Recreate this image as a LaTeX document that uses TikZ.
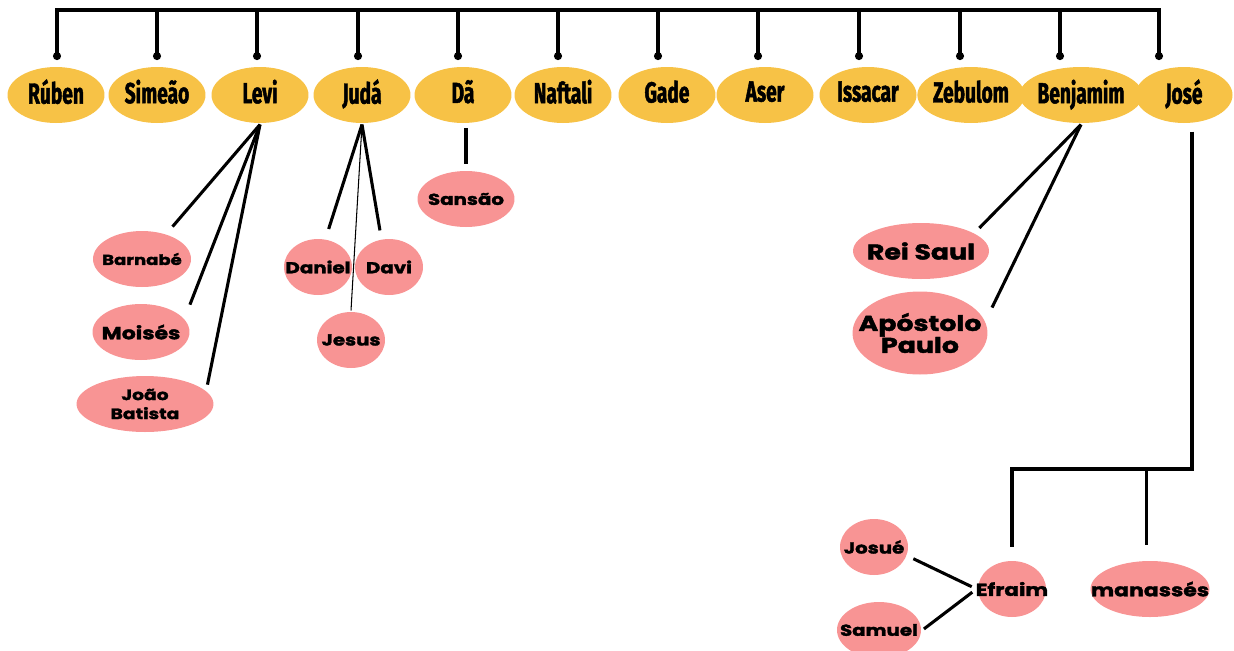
\documentclass[tikz,border=0pt]{standalone}
\usepackage{fontspec}
\usetikzlibrary{shapes.geometric,arrows.meta}
\newfontfamily\tribefont[FakeStretch=0.66,FakeBold=1.6]{Fira Sans}
\newfontfamily\kidfont[FakeStretch=1.25,FakeBold=2]{Poppins}
\definecolor{tribeyellow}{RGB}{247,194,70}
\definecolor{kidpink}{RGB}{248,148,148}
\begin{document}
\begin{tikzpicture}[x=0.02cm,y=-0.02cm,line width=1.75pt]

	\tikzstyle{tribe}=[shape=ellipse,fill=tribeyellow,inner sep=0pt,minimum width=1.94cm,minimum height=1.12cm,text depth=4pt,font=\tribefont\bfseries\fontsize{16.5}{18}\selectfont]
	\tikzstyle{kid}=[shape=ellipse,fill=kidpink,inner ysep=0pt,inner xsep=-10pt,minimum width=1.36cm,minimum height=1.12cm,align=center,font=\kidfont\bfseries\fontsize{9}{10.8}\selectfont]
	\tikzstyle{bigkid}=[font=\kidfont\bfseries\fontsize{12.2}{12.5}\selectfont]

	\useasboundingbox (0,0) rectangle (1234,650);

	% tribes on the bar
	\foreach \name/\txt/\x/\drop in {ruben/Rúben/56/57, simeao/Simeão/157/157, levi/Levi/260/257, juda/Judá/362/358, da/Dã/463/458, naftali/Naftali/563/558, gade/Gade/667/658, aser/Aser/765/758, issacar/Issacar/868/859, zebulom/Zebulom/971/960, benjamim/Benjamim/1081/1060, jose/José/1184/1159}{
		\node[tribe] (\name) at (\x,95) {\txt};
		\coordinate (\name-top) at (\drop,10);
		\coordinate (\name-dot) at (\drop,60);
		\draw[-{Circle[length=4.5pt]}] (\name-top) -- (\name-dot);
	}
	\draw[line cap=rect] (ruben-top) -- (jose-top);

	\node[kid,minimum width=1.96cm,font=\kidfont\bfseries\fontsize{8.2}{10}\selectfont] (barnabe) at (142,259) {Barnabé};
	\node[kid,minimum width=1.94cm,font=\kidfont\bfseries\fontsize{10}{11}\selectfont] (moises) at (141,332) {Moisés};
	\node[kid,minimum width=2.74cm,font=\kidfont\bfseries\fontsize{8.5}{10.8}\selectfont] (joao) at (145,404) {João\\Batista};
	\node[kid] (daniel) at (318,267) {Daniel};
	\node[kid] (davi) at (389,267) {Davi};
	\node[kid] (jesus) at (351,340) {Jesus};
	\node[kid,minimum width=1.94cm] (sansao) at (466,199) {Sansão};
	\node[kid,bigkid,minimum width=2.72cm] (saul) at (921,251) {Rei Saul};
	\node[kid,bigkid,minimum width=2.7cm,minimum height=1.66cm] (paulo) at (920,333) {Apóstolo\\Paulo};
	\node[kid] (josue) at (874,547) {Josué};
	\node[kid,minimum width=1.68cm] (samuel) at (879,630) {Samuel};
	\node[kid,font=\kidfont\bfseries\fontsize{9.8}{11}\selectfont] (efraim) at (1012,589) {Efraim};
	\node[kid,minimum width=2.38cm,font=\kidfont\bfseries\fontsize{10}{11}\selectfont] (manasses) at (1150,589) {manassés};

	\path (levi.south) edge [shorten >=5pt] (barnabe.46)
				(levi.south) edge [shorten >=8pt] (moises.18)
				(levi.south) edge [shorten >=3pt] (joao.13)
				(juda.south) edge [shorten >=5.5pt] (daniel.75)
				(juda.south) edge [shorten >=4.5pt] (davi.105)
				(juda.south) edge [line width=0.6pt] (jesus.north)
				(da.south -| sansao.north) edge [shorten <=2pt,shorten >=3pt] (sansao.north)
				(benjamim.south) edge [shorten >=3.5pt] (saul.19)
				(benjamim.south) edge [shorten >=8pt] (paulo.11)
				(josue.-15) edge [shorten <=3.5pt,shorten >=3pt] (efraim.west)
				(samuel.east) edge [shorten <=1pt,shorten >=3pt] (efraim.west);

	\coordinate (split) at (1192,469);
	\draw[shorten <=4pt,shorten >=7pt] (jose.south -| split) -- (split) -| (efraim.north);
	\draw[shorten >=8pt] (split -| manasses.97) -- (manasses.97);

\end{tikzpicture}
\end{document}
